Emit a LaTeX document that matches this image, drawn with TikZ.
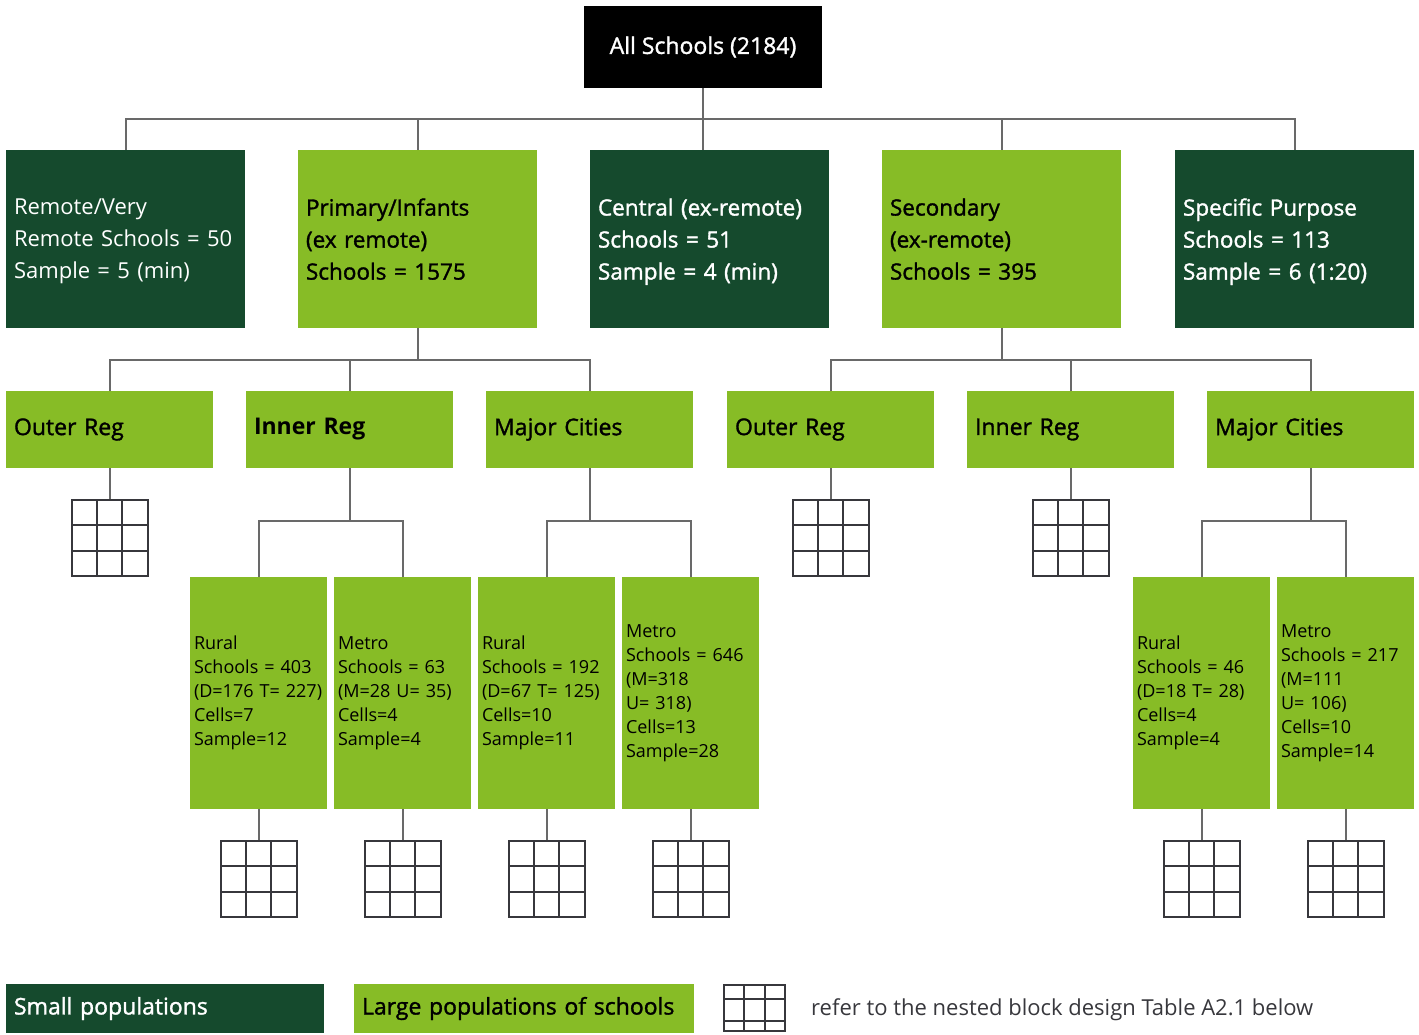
\documentclass[tikz,border=0pt]{standalone}
\usepackage{fontspec}
\setmainfont{Open Sans}
\newfontfamily\semib[FakeBold=1.4]{Open Sans}
\usetikzlibrary{calc}
\definecolor{darkgreen}{RGB}{21,74,45}
\definecolor{lightgreen}{RGB}{135,188,38}
\definecolor{linkgray}{RGB}{105,105,105}
\definecolor{gridgray}{RGB}{55,55,60}
\begin{document}
\begin{tikzpicture}
        [x=1pt, y=-1pt,
        box/.style={rectangle, inner xsep=8pt, inner ysep=0pt, align=left},
        dark/.style={box, fill=darkgreen, text=white},
        light/.style={box, fill=lightgreen, text=black},
        tier1/.style={text width=223pt, text depth=64pt, minimum height=178pt, font=\semib\fontsize{22.5}{32}\selectfont},
        tier2/.style={text width=191pt, minimum height=77pt, font=\semib\fontsize{23}{32}\selectfont},
        tier3/.style={inner xsep=4pt, text width=129pt, minimum height=232pt, font=\fontsize{18}{24}\selectfont},
        link/.style={draw=linkgray, line width=2pt},
        cellgrid/.style 2 args={draw=gridgray, line width=2pt, inner sep=0, minimum width=76pt, minimum height=76pt,
          path picture={
            \foreach \f in {#1}
              \draw[gridgray, line width=2pt] ($(path picture bounding box.north west)!\f!(path picture bounding box.north east)$) -- ($(path picture bounding box.south west)!\f!(path picture bounding box.south east)$);
            \foreach \f in {#2}
              \draw[gridgray, line width=2pt] ($(path picture bounding box.north west)!\f!(path picture bounding box.south west)$) -- ($(path picture bounding box.north east)!\f!(path picture bounding box.south east)$);
          }},
        grid3/.style={cellgrid={1/3,2/3}{1/3,2/3}}]

        \useasboundingbox (0,0) rectangle (1419,1034);

        % root
        \node[box, fill=black, text=white, minimum width=238pt, minimum height=82pt, font=\semib\fontsize{23}{28}\selectfont] (root) at (703,47) {All Schools (2184)};

        % first tier
        \node[dark, tier1, font=\fontsize{22}{32}\selectfont] (rem) at (125.5,239) {Remote/Very\\Remote Schools = 50\\Sample = 5 (min)};
        \node[light, tier1] (pri) at (417.5,239) {Primary/Infants\\(ex remote)\\Schools = 1575};
        \node[dark, tier1] (cen) at (709.5,239) {Central (ex-remote)\\Schools = 51\\Sample = 4 (min)};
        \node[light, tier1] (sec) at (1001.5,239) {Secondary\\(ex-remote)\\Schools = 395};
        \node[dark, tier1] (spe) at (1294.5,239) {Specific Purpose\\Schools = 113\\Sample = 6 (1:20)};

        % second tier
        \node[light, tier2] (po) at (109.5,429.5) {Outer Reg};
        \node[light, tier2, font=\bfseries\fontsize{23}{32}\selectfont] (pin) at (349.5,429.5) {Inner Reg};
        \node[light, tier2] (pmc) at (589.5,429.5) {Major Cities};
        \node[light, tier2] (so) at (830.5,429.5) {Outer Reg};
        \node[light, tier2] (sin) at (1070.5,429.5) {Inner Reg};
        \node[light, tier2] (smc) at (1310.5,429.5) {Major Cities};

        % third tier
        \node[light, tier3] (pinr) at (258.5,693) {Rural\\Schools = 403\\(D=176 T= 227)\\Cells=7\\Sample=12};
        \node[light, tier3] (pinm) at (402.5,693) {Metro\\Schools = 63\\(M=28 U= 35)\\Cells=4\\Sample=4};
        \node[light, tier3] (pmcr) at (546.5,693) {Rural\\Schools = 192\\(D=67 T= 125)\\Cells=10\\Sample=11};
        \node[light, tier3] (pmcm) at (690.5,693) {Metro\\Schools = 646\\(M=318\\U= 318)\\Cells=13\\Sample=28};
        \node[light, tier3] (smcr) at (1201.5,693) {Rural\\Schools = 46\\(D=18 T= 28)\\Cells=4\\Sample=4};
        \node[light, tier3] (smcm) at (1345.5,693) {Metro\\Schools = 217\\(M=111\\U= 106)\\Cells=10\\Sample=14};

        % block grids
        \node[grid3] (gpo) at (109.5,538) {};
        \node[grid3] (gso) at (830.5,538) {};
        \node[grid3] (gsin) at (1070.5,538) {};
        \node[grid3] (gpinr) at (258.5,879) {};
        \node[grid3] (gpinm) at (402.5,879) {};
        \node[grid3] (gpmcr) at (546.5,879) {};
        \node[grid3] (gpmcm) at (690.5,879) {};
        \node[grid3] (gsmcr) at (1201.5,879) {};
        \node[grid3] (gsmcm) at (1345.5,879) {};

        % bus points
        \coordinate (bus0) at (703,119);
        \coordinate (bus1) at (417.5,360);
        \coordinate (bus2) at (1001.5,360);
        \coordinate (bus3) at (349.5,521);
        \coordinate (bus4) at (589.5,521);
        \coordinate (bus5) at (1310.5,521);

        \draw[link] (root) -- (bus0);
        \draw[link] (bus0) -| (rem);
        \draw[link] (bus0) -| (pri);
        \draw[link] (bus0) -- (bus0 |- cen.north);
        \draw[link] (bus0) -| (sec);
        \draw[link] (bus0) -| (spe);

        \draw[link] (pri) -- (bus1);
        \draw[link] (bus1) -| (po);
        \draw[link] (bus1) -| (pin);
        \draw[link] (bus1) -| (pmc);
        \draw[link] (sec) -- (bus2);
        \draw[link] (bus2) -| (so);
        \draw[link] (bus2) -| (sin);
        \draw[link] (bus2) -| (smc);

        \draw[link] (pin) -- (bus3);
        \draw[link] (bus3) -| (pinr);
        \draw[link] (bus3) -| (pinm);
        \draw[link] (pmc) -- (bus4);
        \draw[link] (bus4) -| (pmcr);
        \draw[link] (bus4) -| (pmcm);
        \draw[link] (smc) -- (bus5);
        \draw[link] (bus5) -| (smcr);
        \draw[link] (bus5) -| (smcm);

        \draw[link] (po) -- (gpo);
        \draw[link] (so) -- (gso);
        \draw[link] (sin) -- (gsin);
        \draw[link] (pinr) -- (gpinr);
        \draw[link] (pinm) -- (gpinm);
        \draw[link] (pmcr) -- (gpmcr);
        \draw[link] (pmcm) -- (gpmcm);
        \draw[link] (smcr) -- (gsmcr);
        \draw[link] (smcm) -- (gsmcm);

        % legend
        \node[dark, text width=302pt, minimum height=49pt, font=\semib\fontsize{23}{28}\selectfont] (keysmall) at (165,1008.5) {Small populations};
        \node[light, text width=324pt, minimum height=49pt, font=\semib\fontsize{23}{28}\selectfont] (keylarge) at (524,1008.5) {Large populations of schools};
        \node[cellgrid={1/3,2/3}{14/46,36/46}, minimum width=61pt, minimum height=46pt] (keygrid) at (754.5,1007.5) {};
        \node[anchor=west, inner sep=0, text=gridgray, font=\fontsize{22}{26}\selectfont] (keytext) at (811,1010) {refer to the nested block design Table A2.1 below};
      \end{tikzpicture}
\end{document}
